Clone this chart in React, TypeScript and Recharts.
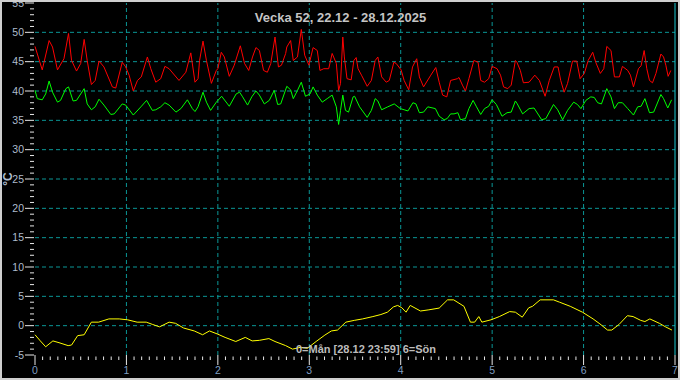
import { Line, LineChart, ReferenceLine, XAxis, YAxis } from "recharts";

// hour of week (0 = Mon 00:00), °C
const red: [number, number][] = [
  [0, 47.6], [1.9, 43.6], [3.7, 48.6], [4.6, 47.5], [5.9, 43.6], [7.6, 45.5], [8.8, 49.8], [9.6, 45.2], [10.9, 43.4],
  [12.0, 44.7], [12.9, 48.8], [13.7, 45.2], [14.8, 41.1], [15.8, 41.8], [16.8, 45.1], [18.1, 44.1], [20.3, 40.7],
  [21.2, 40.5], [22.9, 44.9], [23.8, 44.1], [24.7, 42.7], [25.8, 40.0], [26.9, 41.8], [27.9, 42.4], [29.5, 45.8],
  [30.4, 43.8], [31.7, 41.5], [33.0, 42.1], [34.1, 44.2], [35.2, 43.8], [37.8, 41.8], [39.6, 43.2], [40.9, 46.5],
  [42.0, 41.5], [42.8, 42.1], [43.2, 45.2], [44.1, 48.5], [45.0, 45.2], [46.3, 41.3], [47.6, 43.5], [48.0, 43.8],
  [48.9, 46.6], [49.7, 45.8], [51.0, 42.5], [52.3, 44.4], [53.9, 47.7], [55.0, 44.7], [56.1, 43.5], [57.1, 45.8],
  [58.0, 47.4], [58.9, 46.9], [60.0, 43.5], [61.0, 43.2], [61.9, 44.7], [63.0, 49.2], [63.9, 44.1], [64.7, 44.4],
  [65.8, 46.4], [66.1, 47.5], [67.1, 48.6], [67.8, 45.2], [68.9, 45.8], [69.9, 50.5], [70.8, 46.1], [71.9, 44.4],
  [73.0, 47.4], [74.1, 46.9], [74.8, 43.5], [75.8, 43.8], [77.1, 43.8], [78.0, 46.4], [79.1, 44.7], [79.7, 40.1],
  [80.2, 41.3], [80.8, 49.2], [81.2, 45.8], [81.9, 42.1], [83.0, 41.9], [83.7, 45.2], [84.3, 45.7], [84.8, 43.8],
  [85.7, 42.7], [87.2, 40.8], [88.3, 41.8], [89.3, 45.2], [90.0, 45.8], [91.0, 42.4], [92.2, 41.5], [93.0, 41.8],
  [94.2, 44.9], [94.8, 44.7], [96.1, 43.6], [96.9, 41.8], [98.1, 40.2], [99.1, 44.1], [100.2, 45.5], [100.9, 42.4],
  [102.0, 40.7], [103.9, 42.7], [105.2, 44.0], [106.1, 41.5], [107.0, 39.3], [108.1, 39.0], [109.1, 41.8],
  [110.9, 42.1], [111.3, 42.3], [112.2, 41.0], [113.0, 40.0], [113.9, 42.1], [115.2, 45.2], [116.3, 44.9],
  [117.0, 41.8], [118.0, 41.5], [119.1, 42.1], [120.0, 44.2], [121.3, 43.8], [122.2, 42.7], [123.0, 40.7],
  [124.1, 40.4], [125.0, 41.0], [126.1, 45.2], [126.5, 44.9], [127.4, 43.5], [128.2, 41.4], [129.7, 41.5],
  [131.2, 42.7], [132.4, 41.8], [133.9, 39.1], [135.0, 41.8], [136.3, 44.1], [137.3, 44.1], [138.0, 41.8],
  [138.9, 39.8], [139.8, 41.3], [141.1, 45.1], [142.2, 45.1], [143.1, 42.1], [144.2, 43.0], [145.2, 45.2],
  [146.4, 46.6], [147.2, 44.9], [148.4, 43.0], [149.3, 43.8], [150.1, 47.6], [151.2, 46.9], [152.1, 42.4],
  [153.4, 42.4], [154.2, 44.2], [155.6, 43.5], [156.3, 42.7], [157.1, 40.7], [158.4, 43.8], [159.1, 44.3],
  [159.9, 46.9], [160.6, 43.8], [161.3, 41.8], [162.1, 41.4], [163.0, 43.0], [164.3, 46.3], [165.0, 45.8],
  [165.6, 44.4], [166.2, 42.5], [166.9, 43.5],
];

const green: [number, number][] = [
  [0, 40.1], [0.6, 38.7], [1.9, 38.5], [2.8, 39.5], [3.7, 41.7], [4.6, 39.8], [5.9, 38.1], [6.7, 38.4], [8.1, 40.4],
  [8.8, 40.7], [10.0, 38.3], [10.9, 38.4], [12.9, 40.4], [13.7, 37.8], [14.8, 36.8], [15.8, 37.3], [16.8, 38.6],
  [18.1, 37.6], [19.9, 36.0], [20.8, 36.1], [22.9, 37.8], [23.8, 37.6], [25.8, 35.9], [27.8, 37.3], [29.3, 38.4],
  [30.8, 36.7], [31.7, 36.8], [33.0, 37.3], [34.1, 38.0], [35.2, 37.6], [37.0, 36.4], [38.3, 37.0], [40.0, 38.5],
  [41.3, 37.0], [42.0, 36.5], [42.8, 37.3], [44.1, 39.8], [45.0, 38.1], [46.1, 36.7], [47.6, 38.1], [49.0, 39.1],
  [51.0, 37.4], [52.8, 39.5], [53.7, 39.8], [54.5, 39.0], [55.8, 37.6], [56.9, 39.0], [58.0, 40.0], [58.9, 39.3],
  [60.2, 37.8], [61.5, 38.4], [62.8, 40.1], [63.7, 37.7], [64.5, 37.8], [66.1, 40.8], [67.1, 40.2], [67.8, 38.7],
  [68.9, 40.1], [69.9, 41.5], [71.0, 39.1], [72.2, 39.5], [73.0, 40.7], [74.1, 39.3], [75.4, 38.1], [76.7, 38.7],
  [78.0, 39.3], [79.1, 37.3], [79.7, 34.3], [80.2, 36.7], [80.8, 39.3], [81.5, 36.7], [82.3, 36.4], [83.5, 39.0],
  [83.9, 39.1], [85.2, 37.3], [87.2, 35.5], [88.3, 36.7], [89.3, 38.7], [90.0, 38.3], [91.0, 36.8], [92.6, 37.3],
  [94.3, 37.8], [95.9, 37.0], [96.9, 36.8], [97.9, 36.6], [99.2, 38.0], [100.0, 37.8], [100.9, 36.3], [102.0, 36.4],
  [103.1, 37.3], [105.1, 37.0], [106.1, 35.7], [107.4, 35.1], [108.2, 35.3], [109.1, 36.1], [110.0, 36.1],
  [111.0, 36.3], [111.7, 35.1], [113.0, 35.3], [113.9, 37.0], [115.0, 38.4], [115.9, 37.3], [117.0, 36.0],
  [118.0, 37.0], [119.1, 37.4], [120.0, 38.5], [121.1, 37.7], [122.6, 35.7], [123.9, 36.3], [125.0, 36.4],
  [126.1, 38.3], [126.6, 37.8], [128.0, 36.1], [129.7, 37.0], [131.0, 37.1], [133.0, 35.1], [134.1, 35.3],
  [136.1, 37.7], [137.2, 36.8], [138.5, 35.1], [139.8, 36.7], [141.4, 38.1], [142.4, 37.7], [143.3, 37.0],
  [144.6, 38.4], [145.9, 39.0], [146.8, 38.9], [147.7, 38.0], [148.7, 37.8], [150.1, 40.4], [151.2, 39.0],
  [152.1, 37.0], [153.1, 38.0], [154.2, 38.0], [155.6, 37.0], [157.1, 35.9], [158.2, 37.3], [159.1, 37.4],
  [160.1, 38.7], [161.3, 36.3], [162.4, 36.4], [164.3, 39.4], [165.0, 38.7], [166.1, 37.1], [167.1, 38.5],
];

const yellow: [number, number][] = [
  [0, -1.55], [1.4, -2.6], [2.8, -3.6], [4.7, -2.6], [6.3, -2.9], [8.7, -3.4], [9.6, -3.3], [11.2, -1.7],
  [12.9, -1.55], [14.8, 0.6], [16.7, 0.6], [19.4, 1.15], [22.1, 1.15], [24.3, 1.0], [26.8, 0.6], [29.2, 0.6],
  [30.9, 0.2], [32.7, -0.2], [35.2, 0.6], [36.9, 0.4], [39.0, -0.4], [41.8, -0.9], [44.0, -1.55], [45.8, -0.9],
  [47.8, -1.4], [49.9, -2.0], [52.7, -2.7], [55.2, -2.0], [57.0, -2.6], [58.9, -2.5], [61.4, -2.2], [63.0, -2.7],
  [65.8, -3.4], [67.6, -4.0], [69.6, -3.7], [71.5, -3.85], [74.0, -2.6], [76.1, -1.6], [77.8, -0.9], [79.4, -0.75],
  [81.6, 0.6], [83.8, 0.9], [86.0, 1.15], [88.7, 1.55], [90.8, 1.9], [92.5, 2.3], [94.1, 3.2], [95.2, 3.45],
  [96.3, 3.05], [97.4, 2.3], [98.5, 3.45], [101.2, 2.5], [103.4, 2.7], [106.1, 3.0], [108.3, 4.4], [109.9, 4.4],
  [112.6, 3.3], [114.3, 0.6], [115.4, 0.6], [116.5, 1.55], [117.3, 0.6], [119.7, 1.0], [121.9, 1.55], [124.6, 2.4],
  [126.1, 2.3], [127.9, 1.45], [129.6, 3.05], [130.6, 3.3], [132.6, 4.4], [136.1, 4.4], [137.7, 4.0], [140.5, 3.3],
  [143.7, 2.3], [146.5, 1.15], [148.3, 0.3], [150.3, -0.75], [151.4, -0.75], [153.3, 0.2], [155.5, 1.7],
  [157.0, 1.55], [159.0, 0.9], [160.1, 0.7], [161.4, 1.15], [163.9, 0.4], [165.5, -0.2], [167.2, -0.75],
];

const title = "Vecka 52, 22.12 - 28.12.2025";
const xLabel = "0=Mån [28.12 23:59] 6=Sön";
const yUnit = "°C";

// every 1 °C gets a tick, every 5 °C a label + dashed grid line
const yTicks = Array.from({ length: 61 }, (_, i) => i - 5);
const yGrid = [0, 5, 10, 15, 20, 25, 30, 35, 40, 45, 50];
// 2-hour minor ticks, a labelled tick per day
const xTicks = Array.from({ length: 85 }, (_, i) => i * 2);
const dayLines = [24, 48, 72, 96, 120, 144];

const FONT = "'Liberation Sans', Arial, sans-serif";
const GRID = "#0a9696";

const rows = (pts: [number, number][]) => pts.map(([h, v]) => ({ h, v }));

function YTick({ x, y, payload }: any) {
  const v = payload.value as number;
  const major = v % 5 === 0;
  return (
    <g>
      <line x1={x - (major ? 10 : 5)} x2={x - 1} y1={y} y2={y} stroke="#e8e8e8" />
      {major && (
        <text x={x - 11} y={y} dy={3.6} textAnchor="end" fill="#aebccd" fontSize={10.5} fontFamily={FONT}>
          {v}
        </text>
      )}
    </g>
  );
}

function XTick({ x, y, payload }: any) {
  const h = payload.value as number;
  const major = h % 24 === 0;
  return (
    <g>
      <line x1={x} x2={x} y1={major ? y : y + 1.5} y2={major ? y + 10 : y + 5} stroke="#e8e8e8" />
      {major && (
        <text x={x} y={y + 19} textAnchor="middle" fill="#7f9ec2" fontSize={10.5} fontFamily={FONT}>
          {h / 24}
        </text>
      )}
    </g>
  );
}

export default function App() {
  return (
    <div style={{ position: "absolute", left: 0, top: 0, width: 680, height: 380, background: "#000" }}>
      <LineChart width={680} height={380} margin={{ top: 3, right: 5, bottom: 0, left: 0 }}>
        <XAxis
          type="number"
          dataKey="h"
          domain={[0, 168]}
          ticks={xTicks}
          interval={0}
          height={25}
          axisLine={false}
          tickLine={false}
          tickSize={0}
          tickMargin={0}
          tick={<XTick />}
        />
        <YAxis
          type="number"
          domain={[-5, 55]}
          ticks={yTicks}
          interval={0}
          width={35}
          axisLine={false}
          tickLine={false}
          tickSize={0}
          tickMargin={0}
          tick={<YTick />}
        />
        {yGrid.map((v) => (
          <ReferenceLine key={"y" + v} y={v} stroke={GRID} strokeDasharray="4 3" />
        ))}
        {dayLines.map((h) => (
          <ReferenceLine key={"x" + h} x={h} stroke={GRID} strokeDasharray="4 3" />
        ))}
        <ReferenceLine x={168} stroke="#19c8d2" />
        <Line data={rows(red)} dataKey="v" stroke="#ff0000" strokeWidth={1} dot={false} isAnimationActive={false} />
        <Line data={rows(green)} dataKey="v" stroke="#00ff00" strokeWidth={1} dot={false} isAnimationActive={false} />
        <Line data={rows(yellow)} dataKey="v" stroke="#ffff00" strokeWidth={1} dot={false} isAnimationActive={false} />
      </LineChart>
      <svg width={680} height={380} style={{ position: "absolute", left: 0, top: 0, pointerEvents: "none" }}>
        <text x={340.5} y={22} textAnchor="middle" fill="#c4c4c4" fontSize={13} fontWeight="bold" fontFamily={FONT}>
          {title}
        </text>
        <text x={366} y={353} textAnchor="middle" fill="#bcbcbc" fontSize={11} fontWeight="bold" fontFamily={FONT}>
          {xLabel}
        </text>
        <text
          x={0}
          y={0}
          transform="translate(12 179) rotate(-90)"
          textAnchor="middle"
          fill="#aebccd"
          fontSize={12}
          fontWeight="bold"
          fontFamily={FONT}
        >
          {yUnit}
        </text>
        <rect x={1} y={1} width={678} height={378} fill="none" stroke="#cfcfcf" strokeWidth={2} />
      </svg>
    </div>
  );
}
